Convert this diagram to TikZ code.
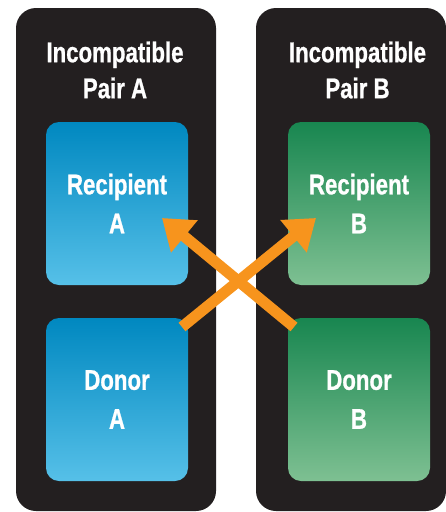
\documentclass[tikz,border=0pt]{standalone}
\usepackage{fontspec}
\setmainfont[FakeStretch=0.78,FakeBold=0.8]{Liberation Sans}
\usetikzlibrary{arrows.meta}
\definecolor{panelc}{RGB}{35,31,32}
\definecolor{bluetop}{RGB}{0,136,192}
\definecolor{bluebot}{RGB}{86,192,232}
\definecolor{greentop}{RGB}{24,134,80}
\definecolor{greenbot}{RGB}{126,192,146}
\definecolor{arrowc}{RGB}{247,148,29}
\tikzset{
  panel/.style={fill=panelc, rounded corners=20pt, inner sep=0pt, minimum height=503pt},
  boxbase/.style={rounded corners=13pt, minimum width=142pt, minimum height=163pt, inner sep=0pt,
    text=white, align=center, font=\bfseries\fontsize{28.5}{39}\selectfont},
  bluebox/.style={boxbase, top color=bluetop, bottom color=bluebot},
  greenbox/.style={boxbase, top color=greentop, bottom color=greenbot},
  title/.style={text=white, align=center, font=\bfseries\fontsize{28.5}{36}\selectfont},
  swap/.style={draw=arrowc, line width=11pt, -{Triangle[width=40pt,length=29pt]}}
}
\begin{document}
\begin{tikzpicture}[x=1pt,y=-1pt]
\useasboundingbox (0,0) rectangle (446,512);
\fill[white] (0,0) rectangle (446,512);
\node[panel, minimum width=200pt] (pA) at (116,259.5) {};
\node[panel, minimum width=190pt] (pB) at (351,259.5) {};
\node[title] (tA) at (115,70) {Incompatible\\Pair A};
\node[title] (tB) at (357.5,70) {Incompatible\\Pair B};
\node[bluebox] (recA) at (117,203.5) {Recipient\\A};
\node[bluebox] (donA) at (117,399.5) {Donor\\A};
\node[greenbox] (recB) at (359,203.5) {Recipient\\B};
\node[greenbox] (donB) at (359,399.5) {Donor\\B};
\coordinate (tailA) at (182,327);
\coordinate (tipB) at (316,218);
\coordinate (tailB) at (294,327);
\coordinate (tipA) at (162,218);
\draw[swap] (tailA) -- (tipB);
\draw[swap] (tailB) -- (tipA);
\end{tikzpicture}
\end{document}
